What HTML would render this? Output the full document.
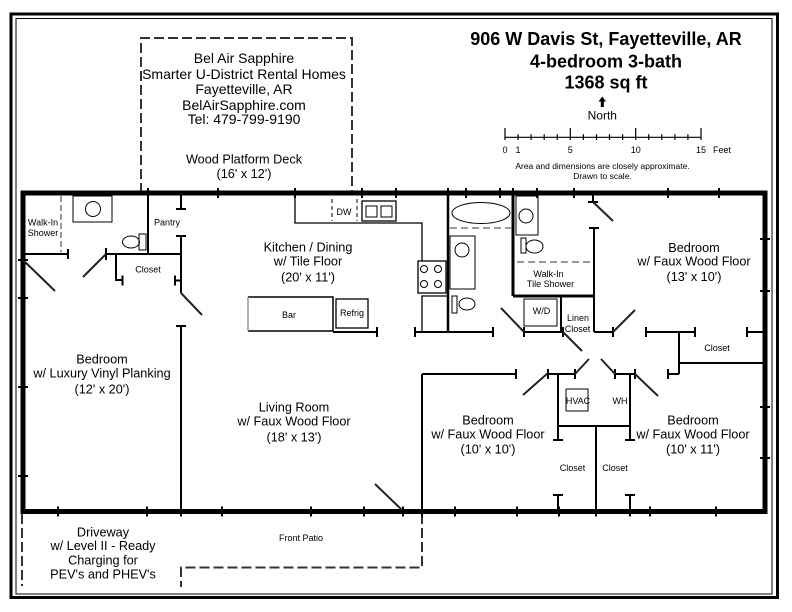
<!DOCTYPE html>
<html><head><meta charset="utf-8">
<style>
html,body{margin:0;padding:0;background:#fff;}
svg{display:block;}
text{font-family:"Liberation Sans",Arial,sans-serif;fill:#000;}
</style></head><body>
<svg width="792" height="612" viewBox="0 0 792 612" xmlns="http://www.w3.org/2000/svg">
<rect width="792" height="612" fill="#fff"/>
<!-- frame -->
<rect x="11" y="14" width="766.5" height="583.5" fill="none" stroke="#000" stroke-width="3"/>
<rect x="16" y="18.5" width="756" height="575.5" fill="none" stroke="#000" stroke-width="1"/>

<!-- dashed outlines -->
<g fill="none" stroke="#333" stroke-width="2" stroke-dasharray="10,4">
<path d="M141,193 V38 H352 V193"/>
<path d="M22,514 V586"/>
<path d="M422,514 V567.5 H181 V587"/>
</g>

<!-- house outline -->
<rect x="23" y="193" width="742" height="318.5" fill="none" stroke="#000" stroke-width="5"/>

<!-- outer wall ticks -->
<g stroke="#000" stroke-width="2">
<path d="M148,188V198 M218,188V198 M295,188V198 M362,188V198 M396,188V198 M448,188V198 M466,188V198 M500,188V198 M513,188V198 M537,188V198 M574,188V198 M668,188V198 M719,188V198"/>
<path d="M18,260H28 M18,298H28 M18,387H28 M18,476H28"/>
<path d="M760,239H770 M760,291H770 M760,407H770 M760,458H770"/>
<path d="M58,506.5V516.5 M147,506.5V516.5 M181,506.5V516.5 M222,506.5V516.5 M311,506.5V516.5 M364,506.5V516.5 M403,506.5V516.5 M422,506.5V516.5 M455,506.5V516.5 M517,506.5V516.5 M559,506.5V516.5 M596,506.5V516.5 M630,506.5V516.5 M650,506.5V516.5 M716,506.5V516.5"/>
</g>

<!-- interior walls -->
<g stroke="#000" stroke-width="2" fill="none">
<!-- left bath -->
<path d="M23,254H68 M68,249V259"/>
<path d="M148,193V254"/>
<path d="M106,254H181 M106,248V260"/>
<path d="M116,254V280H122.5 M122.5,275.5V285.5"/>
<path d="M175,280.5H181 M175,275.5V285.5"/>
<!-- pantry / wall 181 -->
<path d="M181,193V209 M176,209H186"/>
<path d="M181,236V293 M176,236H186"/>
<path d="M181,326V511 M176,326H186"/>
<!-- kitchen -->
<path d="M333,332H377 M377,327V337"/>
<path d="M415,332H493 M415,327V337 M493,327V337"/>
<!-- bath 2 -->
<path d="M448,193V332" stroke-width="2.5"/>
<path d="M513,193V296 M513,296H594" stroke-width="3"/>
<!-- bath 3 / linen -->
<path d="M594,228V332 M589,228H599"/>
<path d="M593,193V202 M588,202H598"/>
<path d="M561,296V332"/>
<path d="M524,332H563 M524,327V337 M563,327V337"/>
<path d="M594,332H613 M613,327V337"/>
<path d="M646,332H695 M646,327V337 M695,327V337"/>
<path d="M747,332H765 M747,327V337"/>
<path d="M679,332V374 M679,363H765 M668,374H679 M668,369V379"/>
<!-- lower hall -->
<path d="M422,374H516 M516,369V379 M422,374V511"/>
<path d="M548,374H575 M548,369V379 M575,369V379"/>
<path d="M615,374H635 M615,369V379 M635,369V379"/>
<path d="M558,374V440 M553,440H563"/>
<path d="M630,374V440 M625,440H635"/>
<path d="M558,426H630"/>
<path d="M596,426V511"/>
<path d="M558,495V511 M553,495H563"/>
<path d="M630,495V511 M625,495H635"/>
</g>

<!-- door swings -->
<g stroke="#222" stroke-width="2">
<line x1="23" y1="260" x2="55" y2="291"/>
<line x1="106" y1="254" x2="83" y2="277"/>
<line x1="181" y1="293" x2="202" y2="315"/>
<line x1="593" y1="202" x2="613" y2="221"/>
<line x1="501" y1="308" x2="524" y2="332"/>
<line x1="563" y1="332" x2="582" y2="351"/>
<line x1="613" y1="332" x2="635" y2="310"/>
<line x1="523" y1="395" x2="548" y2="373"/>
<line x1="575" y1="374" x2="589" y2="359"/>
<line x1="601" y1="359" x2="615" y2="374"/>
<line x1="635" y1="374" x2="658" y2="396"/>
<line x1="375" y1="484" x2="402" y2="510"/>
</g>

<!-- fixtures -->
<g stroke="#000" stroke-width="1" fill="none">
<line x1="61" y1="196" x2="61" y2="252" stroke="#999" stroke-width="2" stroke-dasharray="6,3"/>
<rect x="73" y="196" width="39" height="26"/>
<circle cx="93" cy="209" r="7.5"/>
<rect x="139" y="234" width="7" height="16"/>
<ellipse cx="131" cy="242" rx="8.5" ry="6"/>
<!-- kitchen -->
<path d="M295,193V223H422V261" stroke-width="1.3"/>
<path d="M332,199V221 M357,199V221" stroke-dasharray="4,3"/>
<rect x="362" y="201" width="34" height="20" stroke-width="1.3"/>
<rect x="366" y="206" width="11" height="11"/>
<rect x="381" y="206" width="11" height="11"/>
<rect x="418" y="261" width="28" height="32" stroke-width="1.3"/>
<circle cx="424" cy="269" r="3.5"/><circle cx="438" cy="269" r="3.5"/>
<circle cx="424" cy="284" r="3.5"/><circle cx="438" cy="284" r="3.5"/>
<path d="M422,332V296H447" stroke-width="1.3"/>
<path d="M248,297H333V331H248" stroke-width="1.5"/>
<line x1="248" y1="297" x2="248" y2="331" stroke="#999" stroke-width="1.5"/>
<rect x="336" y="299" width="32" height="29" stroke-width="1.3"/>
<!-- bath 2 -->
<ellipse cx="481" cy="213" rx="29" ry="10.5"/>
<line x1="450" y1="228" x2="511" y2="228" stroke="#999" stroke-width="2" stroke-dasharray="7,4"/>
<rect x="450" y="236" width="25" height="53"/>
<circle cx="462" cy="250" r="7"/>
<rect x="452" y="296" width="5" height="17"/>
<ellipse cx="467" cy="304" rx="8" ry="6"/>
<!-- bath 3 -->
<rect x="516" y="196" width="22" height="39"/>
<circle cx="526" cy="216" r="7"/>
<rect x="521" y="238" width="5" height="15"/>
<ellipse cx="534.5" cy="246.5" rx="8.5" ry="6.5"/>
<line x1="517" y1="262" x2="593" y2="262" stroke="#999" stroke-width="2" stroke-dasharray="7,4"/>
<rect x="524" y="299" width="33" height="27"/>
<rect x="566" y="389" width="22" height="22"/>
</g>

<!-- title block -->
<g font-weight="bold" font-size="18" text-anchor="middle">
<text x="606" y="45">906 W Davis St, Fayetteville, AR</text>
<text x="606" y="67.7">4-bedroom 3-bath</text>
<text x="606" y="88.3">1368 sq ft</text>
</g>
<polygon points="598.5,101.5 606,101.5 602.3,96.5" fill="#000"/>
<rect x="600.8" y="101" width="3" height="6" fill="#000"/>
<text x="602.3" y="119.5" font-size="12" text-anchor="middle">North</text>

<!-- scale bar -->
<g stroke="#000" stroke-width="1.2">
<line x1="505" y1="137.3" x2="701" y2="137.3"/>
<path d="M505,128V140 M570.3,128V140 M635.7,128V140 M701,128V140"/>
<path d="M518.1,134.3V140 M531.1,134.3V140 M544.2,134.3V140 M557.3,134.3V140 M583.4,134.3V140 M596.5,134.3V140 M609.5,134.3V140 M622.6,134.3V140 M648.7,134.3V140 M661.8,134.3V140 M674.9,134.3V140 M687.9,134.3V140"/>
</g>
<g font-size="9" text-anchor="middle">
<text x="505" y="153">0</text>
<text x="518" y="153">1</text>
<text x="570.3" y="153">5</text>
<text x="635.7" y="153">10</text>
<text x="701" y="153">15</text>
<text x="722" y="153">Feet</text>
</g>
<g font-size="8.5" text-anchor="middle">
<text x="602.5" y="169">Area and dimensions are closely approximate.</text>
<text x="602.5" y="179">Drawn to scale.</text>
</g>

<!-- deck text -->
<g font-size="14" text-anchor="middle">
<text x="244" y="63">Bel Air Sapphire</text>
<text x="244" y="79">Smarter U-District Rental Homes</text>
<text x="244" y="94">Fayetteville, AR</text>
<text x="244" y="110">BelAirSapphire.com</text>
<text x="244" y="124">Tel: 479-799-9190</text>
</g>
<g font-size="12.7" text-anchor="middle">
<text x="244" y="163.5">Wood Platform Deck</text>
<text x="244" y="178">(16' x 12')</text>

<!-- room labels -->
<text x="308" y="251.5">Kitchen / Dining</text>
<text x="308" y="265.5">w/ Tile Floor</text>
<text x="308" y="281.3">(20' x 11')</text>

<text x="102" y="363.4">Bedroom</text>
<text x="102" y="377.4">w/ Luxury Vinyl Planking</text>
<text x="102" y="393.4">(12' x 20')</text>

<text x="294" y="411.4">Living Room</text>
<text x="294" y="425.4">w/ Faux Wood Floor</text>
<text x="294" y="441.4">(18' x 13')</text>

<text x="694" y="252.2">Bedroom</text>
<text x="694" y="265.6">w/ Faux Wood Floor</text>
<text x="694" y="281.2">(13' x 10')</text>

<text x="488" y="424.4">Bedroom</text>
<text x="488" y="438.6">w/ Faux Wood Floor</text>
<text x="488" y="453.4">(10' x 10')</text>

<text x="693" y="424.4">Bedroom</text>
<text x="693" y="438.6">w/ Faux Wood Floor</text>
<text x="693" y="453.4">(10' x 11')</text>

<text x="103" y="536.4">Driveway</text>
<text x="103" y="550">w/ Level II - Ready</text>
<text x="103" y="564.4">Charging for</text>
<text x="103" y="578.4">PEV's and PHEV's</text>
</g>

<!-- small labels -->
<g font-size="9" text-anchor="middle">
<text x="43" y="225.5">Walk-In</text>
<text x="43" y="236">Shower</text>
<text x="167" y="225.5">Pantry</text>
<text x="148" y="272.5">Closet</text>
<text x="344" y="215.2">DW</text>
<text x="289" y="318.2">Bar</text>
<text x="352" y="316.2">Refrig</text>
<text x="548.5" y="276.8">Walk-In</text>
<text x="550.5" y="287.2">Tile Shower</text>
<text x="541.5" y="314">W/D</text>
<text x="578" y="321">Linen</text>
<text x="577.5" y="332">Closet</text>
<text x="717" y="351">Closet</text>
<text x="578" y="404">HVAC</text>
<text x="620" y="404">WH</text>
<text x="572.5" y="471">Closet</text>
<text x="615" y="471">Closet</text>
<text x="301" y="541">Front Patio</text>
</g>
</svg>
</body></html>
